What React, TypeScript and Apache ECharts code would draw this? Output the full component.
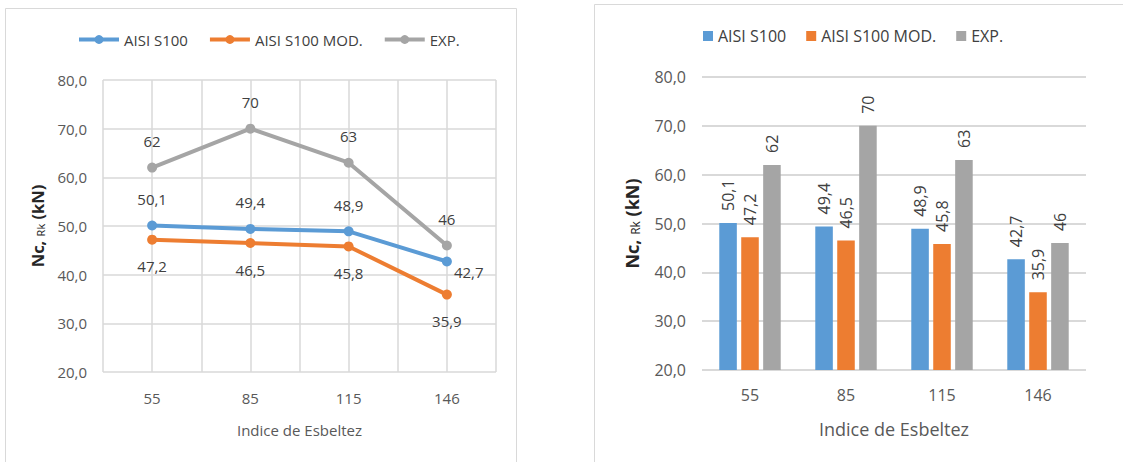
import React, { useEffect, useRef } from "react";
import * as echarts from "echarts";

const categories = ["55", "85", "115", "146"];
const aisi = [50.1, 49.4, 48.9, 42.7];
const aisiMod = [47.2, 46.5, 45.8, 35.9];
const exp = [62, 70, 63, 46];
const seriesNames = ["AISI S100", "AISI S100 MOD.", "EXP."];
const colors = ["#5b9bd5", "#ed7d31", "#a5a5a5"];

const FONT = "'Open Sans', 'Noto Sans', sans-serif";
const fmt = (v: number) => String(v).replace(".", ",");
const yFmt = (v: number) => v.toFixed(1).replace(".", ",");

const yName = "{a|Nc, }{b|Rk}{a| (kN)}";
const yNameRich = (size: number) => ({
  a: { fontFamily: FONT, fontSize: size, fontWeight: "bold", color: "#262626" },
  b: { fontFamily: FONT, fontSize: Math.round(size * 0.65), color: "#262626", verticalAlign: "bottom", padding: [4, 0, 0, 0] },
});

function lineOption(): any {
  const mk = (i: number, data: number[], pos: string, lastPos?: string) => ({
    name: seriesNames[i],
    type: "line",
    xAxisIndex: 0,
    data: data.map((v, k) => ({
      value: v,
      label: k === data.length - 1 && lastPos ? { position: lastPos, distance: 2, offset: [0, 10] } : undefined,
    })),
    symbol: "circle",
    symbolSize: 10,
    lineStyle: { width: 4, color: colors[i] },
    itemStyle: { color: colors[i] },
    label: {
      show: true,
      position: pos,
      distance: 14,
      formatter: (p: any) => fmt(p.value),
      fontFamily: FONT,
      fontSize: 15,
      color: "#404040",
    },
  });
  return {
    animation: false,
    textStyle: { fontFamily: FONT },
    graphic: [
      { type: "rect", shape: { x: 5.5, y: 8.5, width: 511, height: 470 }, style: { fill: "none", stroke: "#d9d9d9", lineWidth: 1 } },
    ],
    legend: {
      left: 72,
      top: 27,
      itemWidth: 40,
      itemHeight: 11,
      itemGap: 20,
      data: seriesNames.map((n) => ({ name: n, lineStyle: { width: 4 } })),
      lineStyle: { width: 4 },
      textStyle: { fontFamily: FONT, fontSize: 15, color: "#404040" },
    },
    grid: { left: 103, right: 84, top: 80, bottom: 90 },
    xAxis: [
      {
        type: "category",
        data: categories,
        boundaryGap: true,
        axisLine: { show: false },
        axisTick: { show: false },
        splitLine: { show: false },
        axisLabel: { fontFamily: FONT, fontSize: 15, color: "#595959", margin: 18 },
        name: "Indice de Esbeltez",
        nameLocation: "middle",
        nameGap: 50,
        nameTextStyle: { fontFamily: FONT, fontSize: 15, color: "#595959" },
      },
      {
        type: "value",
        min: 0,
        max: 8,
        interval: 1,
        show: true,
        axisLine: { show: false },
        axisTick: { show: false },
        axisLabel: { show: false },
        splitLine: { show: true, lineStyle: { color: "#d9d9d9", width: 1.5 } },
      },
    ],
    yAxis: {
      type: "value",
      min: 20,
      max: 80,
      interval: 10,
      axisLine: { show: false },
      axisTick: { show: false },
      axisLabel: { formatter: yFmt, fontFamily: FONT, fontSize: 15, color: "#595959", margin: 16 },
      splitLine: { lineStyle: { color: "#d9d9d9", width: 1.5 } },
      name: yName,
      nameLocation: "middle",
      nameGap: 50,
      nameTextStyle: { rich: yNameRich(16.5) },
    },
    series: [
      mk(0, aisi, "top", "right"),
      mk(1, aisiMod, "bottom"),
      mk(2, exp, "top"),
    ],
  };
}

function barOption(): any {
  const mk = (i: number, data: number[]) => ({
    name: seriesNames[i],
    type: "bar",
    data,
    barGap: "25%",
    barCategoryGap: "36%",
    itemStyle: { color: colors[i] },
    label: {
      show: true,
      position: "top",
      rotate: 90,
      align: "left",
      verticalAlign: "middle",
      distance: 12,
      formatter: (p: any) => fmt(p.value),
      fontFamily: FONT,
      fontSize: 16,
      color: "#404040",
    },
  });
  return {
    animation: false,
    textStyle: { fontFamily: FONT },
    graphic: [
      { type: "rect", shape: { x: 14.5, y: 4.5, width: 560, height: 470 }, style: { fill: "none", stroke: "#d9d9d9", lineWidth: 1 } },
    ],
    legend: {
      left: 118,
      top: 23,
      itemWidth: 10,
      itemHeight: 10,
      itemGap: 20,
      icon: "rect",
      data: seriesNames,
      textStyle: { fontFamily: FONT, fontSize: 16, color: "#404040" },
    },
    grid: { left: 122, right: 37, top: 77, bottom: 92 },
    xAxis: {
      type: "category",
      data: categories,
      axisLine: { show: false },
      axisTick: { show: false },
      axisLabel: { fontFamily: FONT, fontSize: 16, color: "#595959", margin: 17 },
      name: "Indice de Esbeltez",
      nameLocation: "middle",
      nameGap: 50,
      nameTextStyle: { fontFamily: FONT, fontSize: 18, color: "#595959" },
    },
    yAxis: {
      type: "value",
      min: 20,
      max: 80,
      interval: 10,
      axisLine: { show: false },
      axisTick: { show: false },
      axisLabel: { formatter: yFmt, fontFamily: FONT, fontSize: 16, color: "#595959", margin: 16 },
      splitLine: { lineStyle: { color: "#d9d9d9", width: 2 } },
      name: yName,
      nameLocation: "middle",
      nameGap: 61,
      nameTextStyle: { rich: yNameRich(18) },
    },
    series: [mk(0, aisi), mk(1, aisiMod), mk(2, exp)],
  };
}

function Chart({ left, width, option }: { left: number; width: number; option: any }) {
  const ref = useRef<HTMLDivElement>(null);
  useEffect(() => {
    if (!ref.current) return;
    const chart = echarts.init(ref.current, undefined, { renderer: "svg" });
    chart.setOption(option);
    return () => chart.dispose();
  }, []);
  return (
    <div
      ref={ref}
      style={{ position: "absolute", left, top: 0, width, height: 462 }}
    />
  );
}

export default function App() {
  return (
    <div style={{ position: "fixed", left: 0, top: 0, width: 1123, height: 462, background: "#fff", overflow: "hidden" }}>
      <Chart left={0} width={580} option={lineOption()} />
      <Chart left={580} width={543} option={barOption()} />
    </div>
  );
}
